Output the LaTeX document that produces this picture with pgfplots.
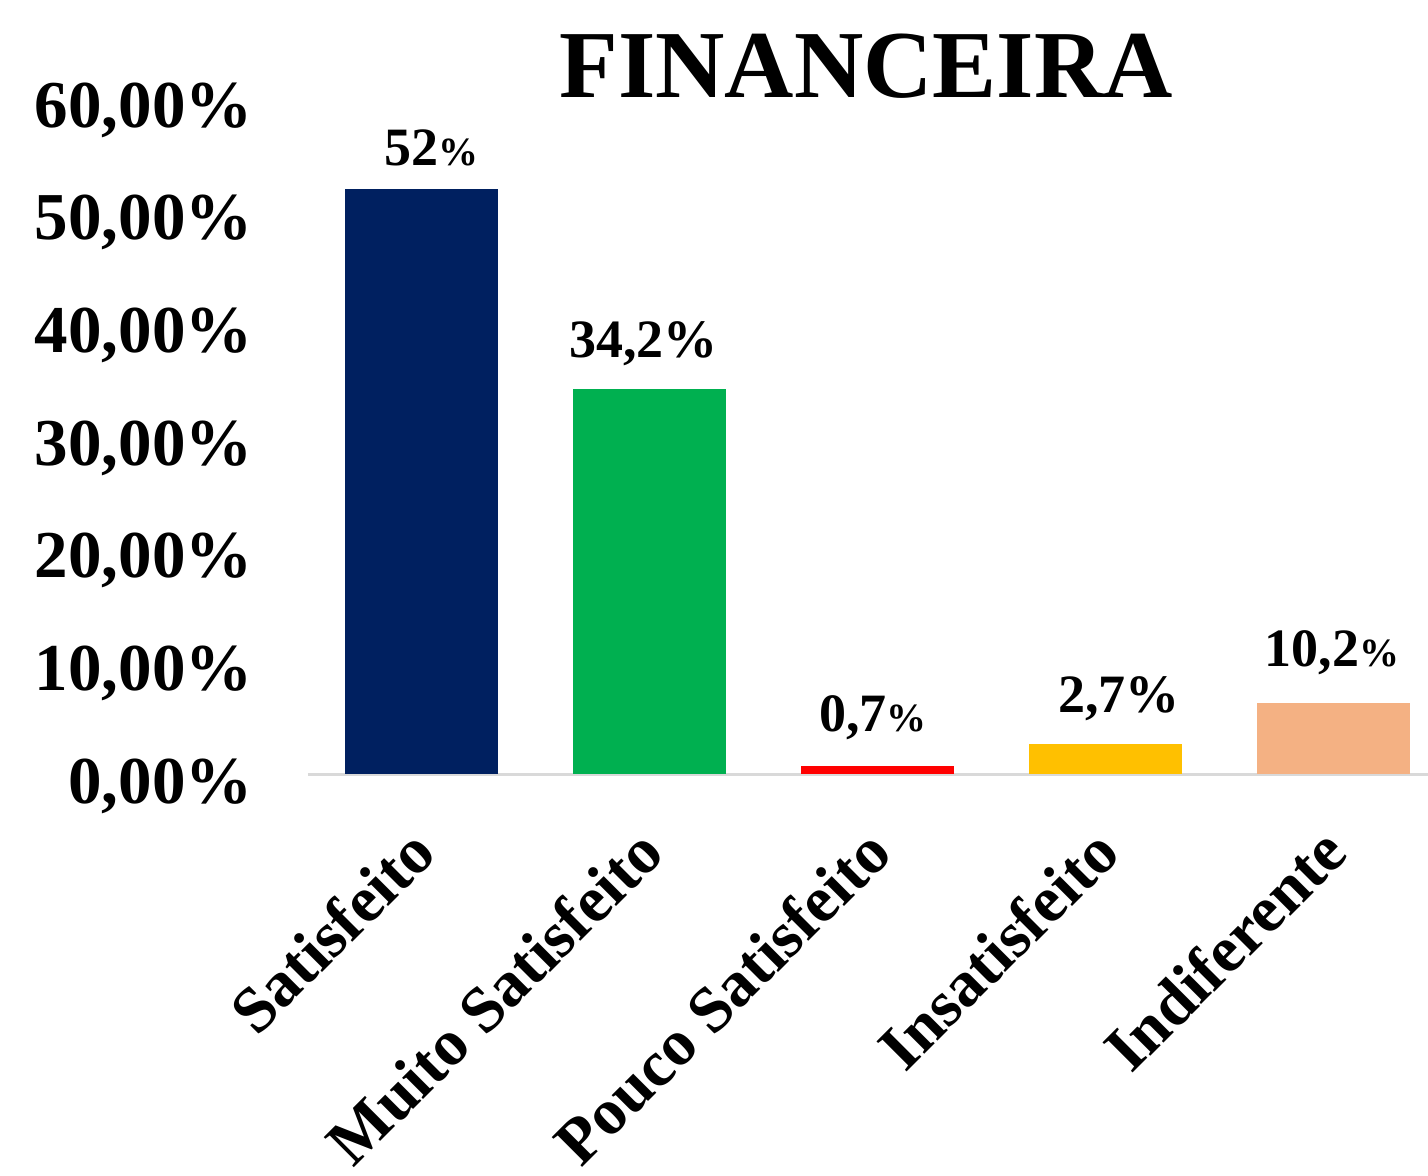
\documentclass[border=0pt]{standalone}
\usepackage{fontspec}
\setmainfont{Liberation Serif}
\usepackage{pgfplots}
\pgfplotsset{compat=1.18}
\definecolor{cNavy}{RGB}{0,32,96}
\definecolor{cGreen}{RGB}{0,176,80}
\definecolor{cRed}{RGB}{255,0,0}
\definecolor{cYellow}{RGB}{255,192,0}
\definecolor{cPeach}{RGB}{244,177,131}
\newcommand{\smallpct}{{\fontsize{20}{20}\selectfont\%}}
\begin{document}
\begin{tikzpicture}
\path[use as bounding box, clip] (-154pt,-200.5pt) rectangle (560pt,387pt);
\begin{axis}[
  at={(0,0)}, anchor=south west,
  scale only axis, width=560pt, height=338pt,
  xmin=-0.5, xmax=4.414, ymin=0, ymax=60,
  axis line style={draw=none},
  major tick length=0pt,
  xtick={0,1,2,3,4},
  xticklabels={Satisfeito, Muito Satisfeito, Pouco Satisfeito, Insatisfeito, Indiferente},
  ytick={0,10,20,30,40,50,60},
  yticklabels={{\textbf{0,00\%}},{\textbf{10,00\%}},{\textbf{20,00\%}},{\textbf{30,00\%}},{\textbf{40,00\%}},{\textbf{50,00\%}},{\textbf{60,00\%}}},
  x tick label style={xshift=0.5pt, yshift=-33pt, rotate=45, anchor=east, inner sep=0pt, font=\fontsize{32.5}{32.5}\selectfont\bfseries},
  y tick label style={xshift=-27.5pt, yshift=-14.5pt, anchor=base east, inner sep=0pt, font=\fontsize{33.5}{33.5}\selectfont\bfseries},
  ybar, bar width=76.5pt, bar shift=0pt,
  clip=false,
  nodes near coords style={font=\fontsize{27}{27}\selectfont\bfseries, anchor=base, inner sep=0pt},
]
\draw[color=black!15, line width=1.5pt] (rel axis cs:0,0) -- (rel axis cs:1,0);
\addplot[fill=cNavy, draw=none, nodes near coords={52\smallpct},
  every node near coord/.append style={xshift=5pt, yshift=12pt}] coordinates {(0,51.9)};
\addplot[fill=cGreen, draw=none, nodes near coords={34,2\%},
  every node near coord/.append style={xshift=-3.25pt, yshift=15.5pt}] coordinates {(1,34.2)};
\addplot[fill=cRed, draw=none, nodes near coords={0,7\smallpct},
  every node near coord/.append style={xshift=-2.5pt, yshift=17.5pt}] coordinates {(2,0.7)};
\addplot[fill=cYellow, draw=none, nodes near coords={2,7\%},
  every node near coord/.append style={xshift=6.75pt, yshift=15.5pt}] coordinates {(3,2.7)};
\addplot[fill=cPeach, draw=none, nodes near coords={10,2\smallpct},
  every node near coord/.append style={xshift=-0.75pt, yshift=18.5pt}] coordinates {(4,6.3)};
\node[anchor=base, yshift=0.5pt, font=\fontsize{48}{48}\selectfont\bfseries] at (rel axis cs:0.4985,1) {FINANCEIRA};
\end{axis}
\end{tikzpicture}
\end{document}
